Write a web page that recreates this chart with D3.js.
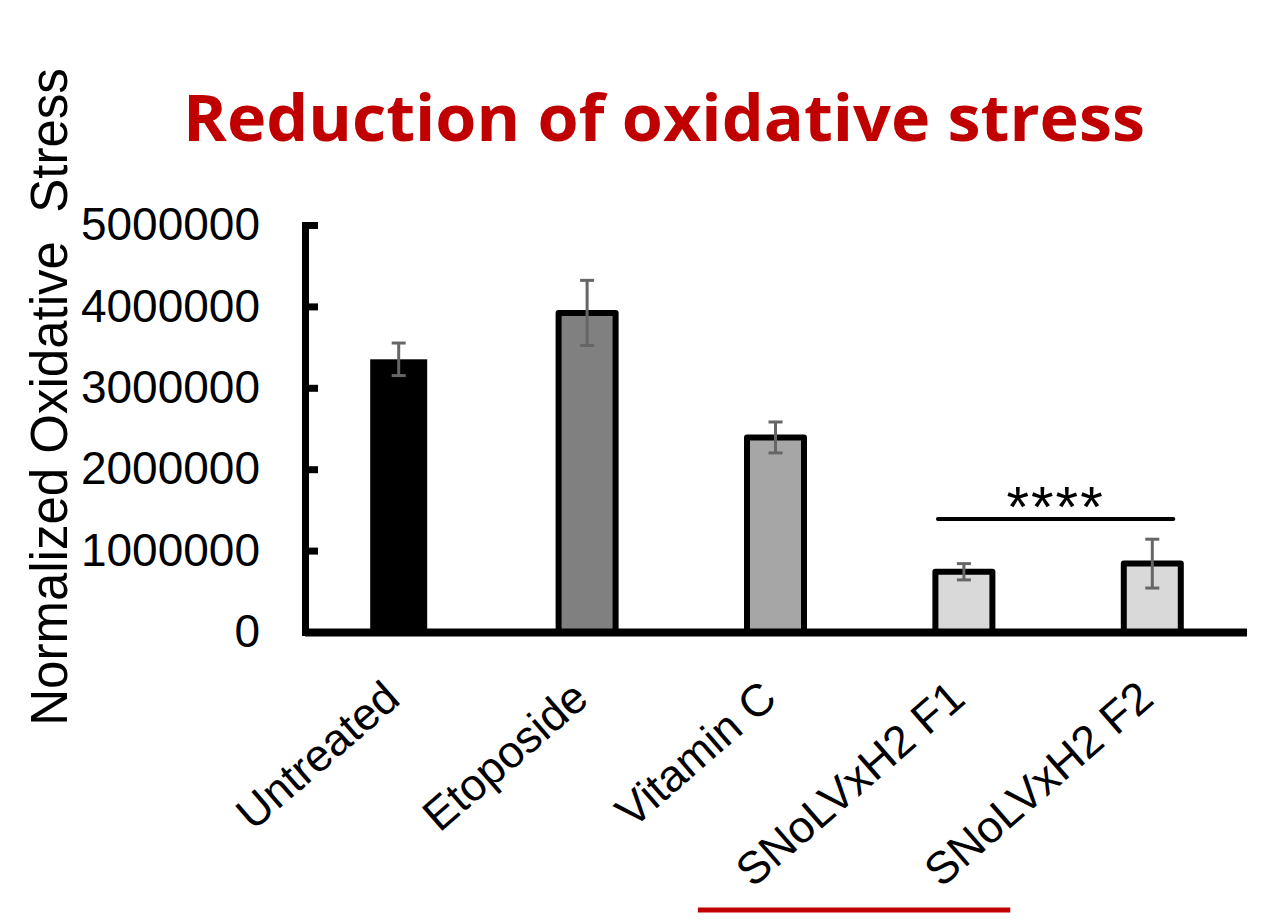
<!DOCTYPE html>
<html>
<head>
<meta charset="utf-8">
<script src="https://cdn.jsdelivr.net/npm/d3@7"></script>
<style>
  body { margin: 0; background: #fff; }
  svg { display: block; }
</style>
</head>
<body>
<div id="chart"></div>
<script>
// values
const categories = ["Untreated", "Etoposide", "Vitamin C", "SNoLVxH2 F1", "SNoLVxH2 F2"];
const means = [3350000, 3920000, 2390000, 740000, 840000];
const errors = [200000, 400000, 190000, 100000, 300000];
const fills = ["#000000", "#808080", "#a6a6a6", "#d9d9d9", "#d9d9d9"];
const yTicks = [0, 1000000, 2000000, 3000000, 4000000, 5000000];
const sigGroup = ["SNoLVxH2 F1", "SNoLVxH2 F2"];
const sigLabel = "****";

const width = 1285, height = 922;
const red = "#c00000";

const svg = d3.select("#chart").append("svg")
    .attr("width", width)
    .attr("height", height);

const x = d3.scalePoint()
    .domain(categories)
    .range([304.5, 1246.5])
    .padding(0.5);

const y = d3.scaleLinear()
    .domain([0, 5000000])
    .range([632, 225]);

const barW = 57;

// title
svg.append("text")
    .attr("x", 664)
    .attr("y", 141)
    .attr("text-anchor", "middle")
    .attr("fill", red)
    .style("font", "700 64px 'Open Sans'")
    .attr("textLength", 962)
    .attr("lengthAdjust", "spacingAndGlyphs")
    .text("Reduction of oxidative stress");

// y axis title
svg.append("text")
    .attr("transform", "translate(67,397) rotate(-90)")
    .attr("text-anchor", "middle")
    .style("font", "51px 'Liberation Sans', Arial, sans-serif")
    .style("white-space", "pre")
    .attr("xml:space", "preserve")
    .text("Normalized Oxidative  Stress");

// bars
svg.append("g").selectAll("rect")
    .data(categories)
    .enter().append("rect")
    .attr("x", d => x(d) - barW / 2)
    .attr("y", (d, i) => y(means[i]))
    .attr("width", barW)
    .attr("height", (d, i) => y(0) - y(means[i]))
    .attr("fill", (d, i) => fills[i])
    .attr("stroke", "#000")
    .attr("stroke-width", (d, i) => i === 0 ? 0 : 6)
    .attr("stroke-linejoin", "round");

// error bars
const err = svg.append("g")
    .attr("stroke", "#666")
    .attr("stroke-width", 3);
categories.forEach((c, i) => {
    const cx = x(c);
    const lo = y(means[i] - errors[i]), hi = y(means[i] + errors[i]);
    err.append("line").attr("x1", cx).attr("x2", cx).attr("y1", lo).attr("y2", hi);
    err.append("line").attr("x1", cx - 7).attr("x2", cx + 7).attr("y1", lo).attr("y2", lo);
    err.append("line").attr("x1", cx - 7).attr("x2", cx + 7).attr("y1", hi).attr("y2", hi);
});

// y axis
const yAxis = d3.axisLeft(y)
    .tickValues(yTicks)
    .tickFormat(d3.format("d"))
    .tickSizeInner(-13)
    .tickSizeOuter(0)
    .tickPadding(45);

const yG = svg.append("g")
    .attr("transform", "translate(305,0)")
    .call(yAxis);
yG.select(".domain").attr("stroke-width", 7).attr("stroke-linecap", "square");
yG.selectAll(".tick line").attr("stroke-width", 7);
yG.selectAll(".tick text")
    .attr("fill", "#000")
    .style("font", "46px 'Liberation Sans', Arial, sans-serif");

// x axis
const xAxis = d3.axisBottom(x).tickSize(0).tickPadding(0);
const xG = svg.append("g")
    .attr("transform", `translate(0,${y(0)})`)
    .call(xAxis);
xG.select(".domain").attr("stroke-width", 8);
xG.selectAll(".tick text")
    .attr("fill", "#000")
    .style("font", "45px 'Liberation Sans', Arial, sans-serif")
    .attr("text-anchor", "end")
    .attr("dy", 0)
    .attr("y", 0)
    .attr("transform", "translate(3,70) rotate(-41)");

// significance bar
const sx1 = x(sigGroup[0]) - 26, sx2 = x(sigGroup[1]) + 21;
svg.append("line")
    .attr("x1", sx1).attr("x2", sx2)
    .attr("y1", 519).attr("y2", 519)
    .attr("stroke", "#000")
    .attr("stroke-width", 4)
    .attr("stroke-linecap", "round");
svg.append("text")
    .attr("x", (sx1 + sx2) / 2)
    .attr("y", 527)
    .attr("text-anchor", "middle")
    .style("font", "58px 'Liberation Sans', Arial, sans-serif")
    .style("letter-spacing", "2px")
    .text(sigLabel);

// red underline below the formulation labels
svg.append("line")
    .attr("x1", x(sigGroup[0]) - 266).attr("x2", x(sigGroup[1]) - 142)
    .attr("y1", 910).attr("y2", 910)
    .attr("stroke", red)
    .attr("stroke-width", 5);
</script>
</body>
</html>
